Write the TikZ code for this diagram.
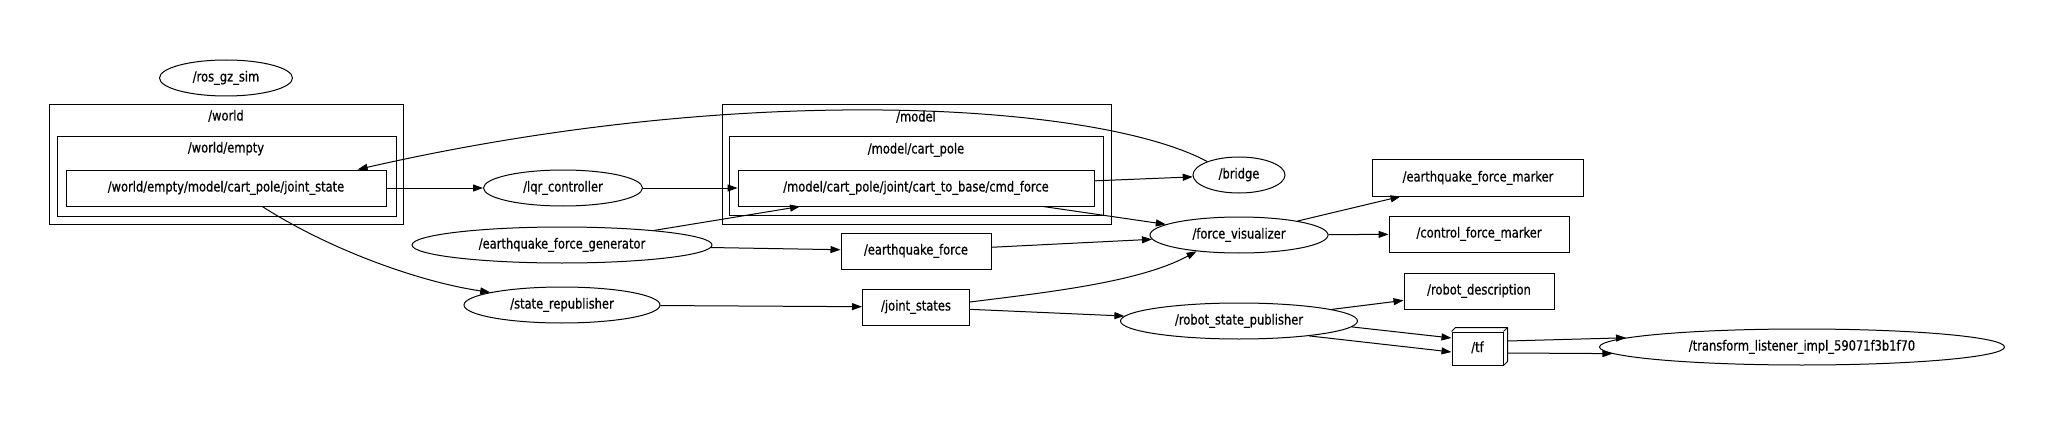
\documentclass[tikz,border=0pt]{standalone}
\usepackage{fontspec}
\setmainfont{DejaVu Sans}[FakeStretch=0.82, FakeBold=0.6]
\usetikzlibrary{arrows.meta,shapes.geometric}

\begin{document}
\begin{tikzpicture}[
  x=1pt, y=-1pt, >={Triangle[length=10pt,width=7pt]}, line width=1pt,
  every node/.style={font=\fontsize{14}{16}\selectfont, inner sep=0pt,
                     text height=10pt, text depth=3pt},
  proc/.style={draw, ellipse, minimum height=36pt},
  topic/.style={draw, rectangle, minimum height=36pt},
  clus/.style={draw, rectangle},
]
\fill[white] (0,0) rectangle (2048,433);
\node[clus, minimum width=354pt, minimum height=119pt] (world) at (226,164.5) {};
\node[clus, minimum width=339pt, minimum height=79pt] (wempty) at (226.5,176.5) {};
\node (worldlbl) at (226,117) {/world};
\node (wemptylbl) at (226,149) {/world/empty};
\node[clus, minimum width=389pt, minimum height=119pt] (model) at (916.5,164.5) {};
\node[clus, minimum width=374pt, minimum height=78pt] (cartpole) at (916,176) {};
\node (modellbl) at (916,118) {/model};
\node (cartpolelbl) at (916,150) {/model/cart\_pole};

\node[proc, minimum width=133pt] (rosgz) at (226,78) {/ros\_gz\_sim};
\node[topic, minimum width=320pt] (wjs) at (226,188)
  {/world/empty/model/cart\_pole/joint\_state};
\node[proc, minimum width=159pt] (lqr) at (563,188) {/lqr\_controller};
\node[proc, minimum width=300pt] (eqgen) at (562,245) {/earthquake\_force\_generator};
\node[proc, minimum width=196pt] (srep) at (562,305) {/state\_republisher};
\node[topic, minimum width=356pt] (cmdf) at (916,188)
  {/model/cart\_pole/joint/cart\_to\_base/cmd\_force};
\node[topic, minimum width=150pt] (eqf) at (916,251) {/earthquake\_force};
\node[topic, minimum width=107pt] (jst) at (916,307) {/joint\_states};
\node[proc, minimum width=92pt] (bridge) at (1239,175) {/bridge};
\node[proc, minimum width=178pt] (fvis) at (1239,235) {/force\_visualizer};
\node[proc, minimum width=237pt] (rsp) at (1239,321) {/robot\_state\_publisher};
\node[topic, minimum width=211pt] (eqmk) at (1478,178) {/earthquake\_force\_marker};
\node[topic, minimum width=180pt] (cfmk) at (1479,234) {/control\_force\_marker};
\node[topic, minimum width=150pt] (rdesc) at (1479,291) {/robot\_description};
\node[topic, minimum width=51pt, minimum height=33pt] (tf) at (1477.5,348.5) {/tf};
\draw (tf.north west) -- ++(4pt,4pt) -| ([shift={(4pt,4pt)}]tf.south east) -- (tf.south east);
\draw (tf.north east) -- ++(4pt,4pt);
\node[proc, minimum width=405pt] (tfl) at (1802,347) {/transform\_listener\_impl\_59071f3b1f70};

\draw[->] (bridge.157) .. controls (1100,104) and (750,80) .. (wjs.8);
\draw[->] (wjs) -- (lqr);
\draw[->] (wjs.-27) .. controls (330,250) and (420,282) .. (srep.170);
\draw[->] (lqr) -- (cmdf);
\draw[->] (eqgen.9) -- ([xshift=-116pt]cmdf.south);
\draw[->] (eqgen) -- (eqf);
\draw[->] (cmdf) -- (bridge);
\draw[->] (cmdf) -- (fvis);
\draw[->] (eqf) -- (fvis);
\draw[->] ([yshift=5pt]jst.east) .. controls (1050,292) and (1140,282) .. (fvis.201);
\draw[->] (srep) -- (jst);
\draw[->] (jst) -- (rsp);
\draw[->] (fvis) -- (eqmk);
\draw[->] (fvis) -- (cfmk);
\draw[->] (rsp) -- (rdesc);
\draw[->] (rsp.-3) -- ([yshift=10.5pt]tf.west);
\draw[->] (rsp.-12) -- ([yshift=-3.5pt]tf.west);
\draw[->] ([shift={(4pt,7.5pt)}]tf.east) -- (tfl.177.5);
\draw[->] ([shift={(4pt,-4.5pt)}]tf.east) -- (tfl.182.5);
\end{tikzpicture}
\end{document}
